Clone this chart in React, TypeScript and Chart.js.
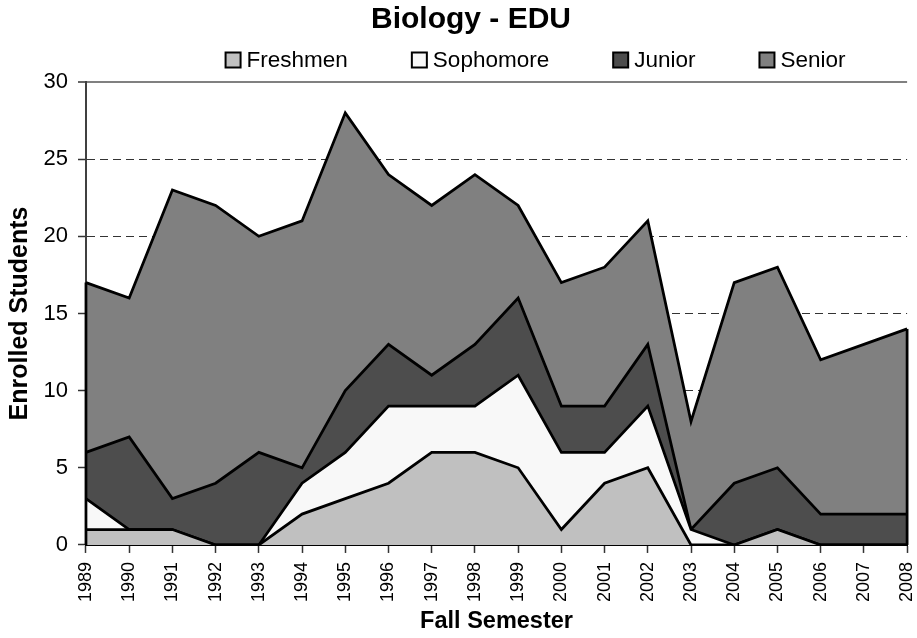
import React, { useEffect, useRef } from 'react';
import { Chart, registerables } from 'chart.js';

Chart.register(...registerables);

const years = ['1989', '1990', '1991', '1992', '1993', '1994', '1995', '1996', '1997', '1998', '1999', '2000', '2001', '2002', '2003', '2004', '2005', '2006', '2007', '2008'];
const freshmen = [1, 1, 1, 0, 0, 2, 3, 4, 6, 6, 5, 1, 4, 5, 0, 0, 1, 0, 0, 0];
const sophomore = [2, 0, 0, 0, 0, 2, 3, 5, 3, 3, 6, 5, 2, 4, 1, 0, 0, 0, 0, 0];
const junior = [3, 6, 2, 4, 6, 1, 4, 4, 2, 4, 5, 3, 3, 4, 0, 4, 4, 2, 2, 2];
const senior = [11, 9, 20, 18, 14, 16, 18, 11, 11, 11, 6, 8, 9, 8, 7, 13, 13, 10, 11, 12];
const seriesNames = ['Freshmen', 'Sophomore', 'Junior', 'Senior'];
const seriesColors = ['#c0c0c0', '#f8f8f8', '#4d4d4d', '#808080'];
const yMin = 0;
const yMax = 30;
const yStep = 5;

const FONT = '"Liberation Sans", Arial, Helvetica, sans-serif';

const titleShiftPlugin = {
  id: 'titleShift',
  afterLayout(chart: any) {
    const t = chart.titleBlock;
    if (t) {
      t.left += 17;
      t.right += 17;
    }
  },
};

const legendPlugin = {
  id: 'customLegend',
  afterDraw(chart: any) {
    const ctx = chart.ctx;
    const ca = chart.chartArea;
    ctx.save();
    ctx.font = `22.5px ${FONT}`;
    const box = 15;
    const gapText = 6;
    const gapItem = 64;
    const items = chart.data.datasets.map((ds: any) => ({
      text: ds.label,
      fill: ds.backgroundColor,
      width: box + gapText + ctx.measureText(ds.label).width,
    }));
    const total = items.reduce((s: number, it: any) => s + it.width, 0) + gapItem * (items.length - 1);
    let x = (ca.left + ca.right) / 2 + 39 - total / 2;
    const y = ca.top - 22;
    items.forEach((it: any) => {
      ctx.fillStyle = it.fill;
      ctx.fillRect(x, y - box / 2, box, box);
      ctx.lineWidth = 2;
      ctx.strokeStyle = '#000';
      ctx.strokeRect(x, y - box / 2, box, box);
      ctx.fillStyle = '#000';
      ctx.textBaseline = 'middle';
      ctx.textAlign = 'left';
      ctx.fillText(it.text, x + box + gapText, y + 1);
      x += it.width + gapItem;
    });
    ctx.restore();
  },
};

const edgePlugin = {
  id: 'areaEdges',
  afterDatasetsDraw(chart: any) {
    const meta = chart.getDatasetMeta(chart.data.datasets.length - 1);
    const pts = meta.data;
    if (!pts || !pts.length) return;
    const ctx = chart.ctx;
    const bottom = chart.scales.y.getPixelForValue(0);
    ctx.save();
    ctx.strokeStyle = '#000';
    ctx.lineWidth = 2.75;
    [pts[0], pts[pts.length - 1]].forEach((p: any) => {
      ctx.beginPath();
      ctx.moveTo(p.x, p.y);
      ctx.lineTo(p.x, bottom);
      ctx.stroke();
    });
    ctx.restore();
  },
};

export default function App() {
  const canvasRef = useRef<HTMLCanvasElement | null>(null);

  useEffect(() => {
    if (!canvasRef.current) return;
    const values = [freshmen, sophomore, junior, senior];
    const chart = new Chart(canvasRef.current, {
      type: 'line',
      data: {
        labels: years,
        datasets: values.map((v, i) => ({
          label: seriesNames[i],
          data: v,
          backgroundColor: seriesColors[i],
          borderColor: '#000',
          borderWidth: 2.75,
          pointRadius: 0,
          pointHoverRadius: 0,
          tension: 0,
          fill: i === 0 ? 'origin' : '-1',
          stack: 'students',
        })),
      },
      options: {
        animation: false,
        responsive: true,
        maintainAspectRatio: false,
        events: [],
        layout: { autoPadding: false, padding: { left: 0, right: 9, top: 0, bottom: 0 } },
        plugins: {
          legend: { display: false },
          tooltip: { enabled: false },
          title: {
            display: true,
            text: 'Biology - EDU',
            color: '#000',
            font: { family: FONT, size: 30, weight: 'bold' },
            padding: { top: 2, bottom: 44 },
          },
        },
        scales: {
          x: {
            offset: false,
            grid: {
              drawOnChartArea: false,
              drawTicks: true,
              tickLength: 8,
              tickColor: '#333',
              tickWidth: 1.5,
              color: '#333',
            },
            border: { color: '#000', width: 2 },
            ticks: {
              autoSkip: false,
              maxRotation: 90,
              minRotation: 90,
              padding: 9,
              color: '#000',
              font: { family: FONT, size: 18, lineHeight: 0.05 },
            },
            title: {
              display: true,
              text: 'Fall Semester',
              color: '#000',
              font: { family: FONT, size: 23.5, weight: 'bold' },
              padding: { top: -3.1, bottom: 1.9 },
            },
          },
          y: {
            stacked: true,
            min: yMin,
            max: yMax,
            grid: {
              color: (c: any) => (c.tick && c.tick.value === yMax ? '#808080' : c.tick && c.tick.value === yMin ? 'rgba(0,0,0,0)' : '#333'),
              lineWidth: (c: any) => (c.tick && c.tick.value === yMax ? 2 : 1),
              drawTicks: true,
              tickLength: 8,
              tickColor: '#333',
              tickWidth: 1.5,
            },
            border: {
              color: '#404040',
              width: 2,
              dash: (c: any) => (c.tick && c.tick.value !== yMax ? [8, 5] : []),
            },
            ticks: {
              stepSize: yStep,
              padding: 10,
              color: '#000',
              font: { family: FONT, size: 22 },
            },
            title: {
              display: true,
              text: 'Enrolled Students',
              color: '#000',
              font: { family: FONT, size: 25, weight: 'bold' },
              padding: { top: 5, bottom: -1.5 },
            },
          },
        },
      },
      plugins: [titleShiftPlugin, legendPlugin, edgePlugin],
    } as any);
    return () => chart.destroy();
  }, []);

  return (
    <div style={{ position: 'fixed', left: 0, top: 0, width: 917, height: 638, background: '#fff' }}>
      <canvas ref={canvasRef} />
    </div>
  );
}
